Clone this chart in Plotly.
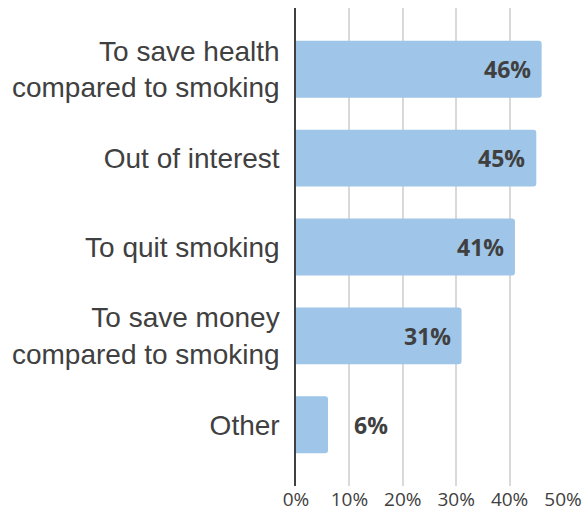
import plotly.graph_objects as go

# Reasons given, top to bottom, and share of respondents (%)
reasons = [
    "To save health<br>compared to smoking",
    "Out of interest",
    "To quit smoking",
    "To save money<br>compared to smoking",
    "Other",
]
shares = [46, 45, 41, 31, 6]
x_ticks = [0, 10, 20, 30, 40, 50]
x_tick_labels = [f"{t}%" for t in x_ticks]

BAR_COLOR = "#9FC5E8"
TEXT_COLOR = "#404040"

fig = go.Figure(
    go.Bar(
        x=shares,
        y=reasons,
        orientation="h",
        marker=dict(color=BAR_COLOR, line=dict(width=0), cornerradius=3),
        width=0.64,
        hoverinfo="skip",
    )
)

# Value labels: inside the bar end when it fits, otherwise just past it
for r, v in zip(reasons, shares):
    inside = v >= 20
    fig.add_annotation(
        x=v, y=r, text=f"<b>{v}%</b>", showarrow=False,
        xanchor="right" if inside else "left",
        xshift=-9 if inside else 24,
        font=dict(family="Open Sans", size=23, color=TEXT_COLOR),
    )

fig.update_layout(
    width=582, height=516,
    margin=dict(l=296, r=19, t=8, b=30, autoexpand=False),
    paper_bgcolor="white", plot_bgcolor="white",
    showlegend=False,
    xaxis=dict(
        range=[0, 50], tickvals=x_ticks, ticktext=x_tick_labels,
        showgrid=True, gridcolor="#D9D9D9", gridwidth=1.5,
        zeroline=False, showline=False,
        ticklabeloverflow="allow",
        tickfont=dict(family="Open Sans", size=19, color=TEXT_COLOR),
        fixedrange=True,
    ),
    yaxis=dict(
        type="category", range=[4.69, -0.69],
        showgrid=False, zeroline=False,
        showline=True, linecolor="#404040", linewidth=1.5,
        ticks="", ticklabelstandoff=9,
        tickfont=dict(family="Liberation Sans", size=28, color=TEXT_COLOR),
        fixedrange=True,
    ),
)

fig.write_html("out.html")
